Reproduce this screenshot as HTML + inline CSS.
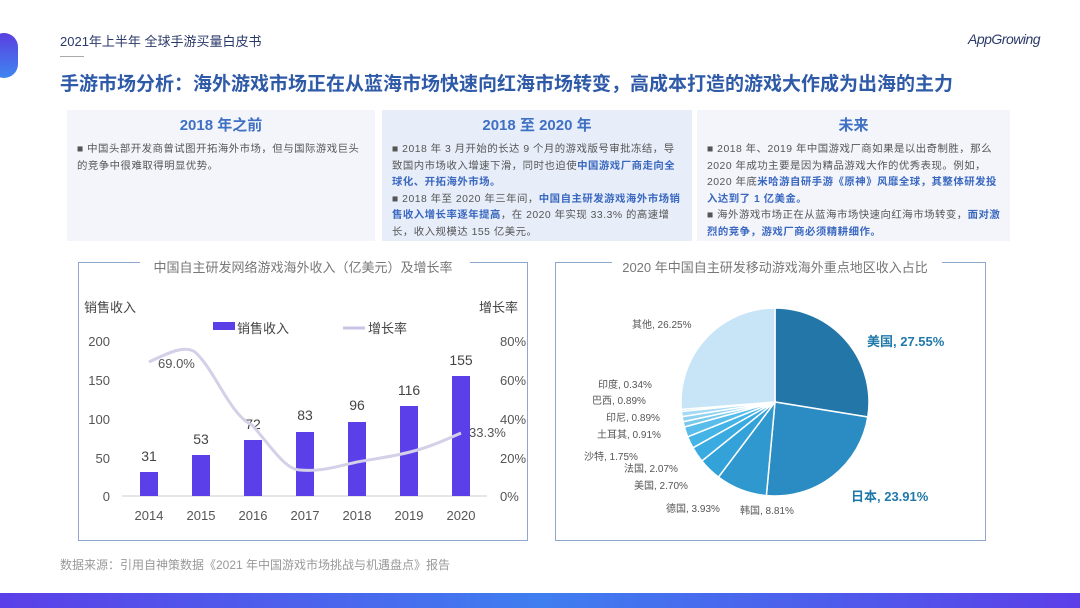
<!DOCTYPE html>
<html><head><meta charset="utf-8">
<style>
body{margin:0;width:1080px;height:608px;background:#fff;position:relative;overflow:hidden;font-family:"Liberation Sans","Noto Sans CJK SC",sans-serif;}
.abs{position:absolute}
.box{position:absolute;top:110px;height:131px;background:#f3f5fb;}
.box h3{margin:6px 0 0;height:20px;line-height:20px;text-align:center;font-size:15px;color:#3f70c4;font-weight:bold}
.box p{margin:6px 8px 0 10px;font-size:10.4px;letter-spacing:0.5px;line-height:16.5px;color:#555}
.box b{color:#3a68c0}
</style></head><body>
<div class="abs" style="left:-10px;top:33px;width:28px;height:45px;border-radius:14px;background:linear-gradient(180deg,#5a3fe0,#3f86f0)"></div>
<div class="abs" style="left:60px;top:31px;font-size:13px;color:#2b3a6a">2021年上半年 全球手游买量白皮书</div>
<div class="abs" style="left:60px;top:56px;width:24px;height:1px;background:#aaa"></div>
<div class="abs" style="left:968px;top:31px;font-size:14px;color:#2b3a6a;font-style:italic;letter-spacing:-0.5px">AppGrowing</div>
<div class="abs" style="left:60px;top:69px;font-size:19px;font-weight:bold;color:#2e5aa8">手游市场分析：海外游戏市场正在从蓝海市场快速向红海市场转变，高成本打造的游戏大作成为出海的主力</div>

<div class="box" style="left:67px;width:308px"><h3>2018 年之前</h3><p>■ 中国头部开发商曾试图开拓海外市场，但与国际游戏巨头的竞争中很难取得明显优势。</p></div>
<div class="box" style="left:382px;width:310px;background:#e8eef9"><h3>2018 至 2020 年</h3><p>■ 2018 年 3 月开始的长达 9 个月的游戏版号审批冻结，导致国内市场收入增速下滑，同时也迫使<b>中国游戏厂商走向全球化、开拓海外市场。</b><br>■ 2018 年至 2020 年三年间，<b>中国自主研发游戏海外市场销售收入增长率逐年提高</b>，在 2020 年实现 33.3% 的高速增长，收入规模达 155 亿美元。</p></div>
<div class="box" style="left:697px;width:313px"><h3>未来</h3><p>■ 2018 年、2019 年中国游戏厂商如果是以出奇制胜，那么 2020 年成功主要是因为精品游戏大作的优秀表现。例如，2020 年底<b>米哈游自研手游《原神》风靡全球，其整体研发投入达到了 1 亿美金。</b><br>■ 海外游戏市场正在从蓝海市场快速向红海市场转变，<b>面对激烈的竞争，游戏厂商必须精耕细作。</b></p></div>

<svg class="abs" style="left:0;top:0" width="1080" height="608" font-family="Liberation Sans, Noto Sans CJK SC, sans-serif">
<rect x="78.5" y="262.5" width="449" height="278" fill="none" stroke="#8fa6cf"/>
<rect x="140" y="255" width="330" height="15" fill="#fff"/>
<text x="303" y="272" font-size="13" fill="#777" text-anchor="middle">中国自主研发网络游戏海外收入（亿美元）及增长率</text>
<text x="84" y="312" font-size="13" fill="#444">销售收入</text>
<text x="518" y="312" font-size="13" fill="#444" text-anchor="end">增长率</text>
<rect x="213" y="322" width="22" height="8" fill="#5b3fe8"/><text x="237" y="333" font-size="13" fill="#444">销售收入</text>
<line x1="343" y1="328" x2="365" y2="328" stroke="#c8c4e4" stroke-width="3"/><text x="368" y="333" font-size="13" fill="#444">增长率</text>
<g font-size="13" fill="#555" text-anchor="end">
<text x="110" y="346">200</text><text x="110" y="385">150</text><text x="110" y="424">100</text><text x="110" y="463">50</text><text x="110" y="501">0</text></g>
<g font-size="13" fill="#555"><text x="500" y="346">80%</text><text x="500" y="385">60%</text><text x="500" y="424">40%</text><text x="500" y="463">20%</text><text x="500" y="501">0%</text></g>
<line x1="122" y1="496" x2="487" y2="496" stroke="#ccc"/>
<g fill="#5b3fe8">
<rect x="140" y="472" width="18" height="24"/><rect x="192" y="455" width="18" height="41"/><rect x="244" y="440" width="18" height="56"/><rect x="296" y="432" width="18" height="64"/><rect x="348" y="422" width="18" height="74"/><rect x="400" y="406" width="18" height="90"/><rect x="452" y="376" width="18" height="120"/></g>
<g font-size="14" fill="#444" text-anchor="middle">
<text x="149" y="461">31</text><text x="201" y="444">53</text><text x="253" y="429">72</text><text x="305" y="420">83</text><text x="357" y="410">96</text><text x="409" y="395">116</text><text x="461" y="365">155</text></g>
<path d="M149,362 C170,352 185,345 195,352 C215,370 230,415 252,425 C270,445 285,470 300,470 C320,472 340,466 357,462 C380,458 395,456 410,452 C430,447 445,440 461,433" fill="none" stroke="#d3d0e8" stroke-width="3"/>
<text x="158" y="368" font-size="13" fill="#555">69.0%</text>
<text x="469" y="437" font-size="13" fill="#555">33.3%</text>
<g font-size="13" fill="#555" text-anchor="middle">
<text x="149" y="520">2014</text><text x="201" y="520">2015</text><text x="253" y="520">2016</text><text x="305" y="520">2017</text><text x="357" y="520">2018</text><text x="409" y="520">2019</text><text x="461" y="520">2020</text></g>

<rect x="555.5" y="262.5" width="430" height="278" fill="none" stroke="#8fa6cf"/>
<rect x="612" y="255" width="330" height="15" fill="#fff"/>
<text x="775" y="272" font-size="13" fill="#777" text-anchor="middle">2020 年中国自主研发移动游戏海外重点地区收入占比</text>
<g id="pie"></g>
<g font-size="10" fill="#555">
<text x="632" y="328">其他, 26.25%</text>
<text x="598" y="388">印度, 0.34%</text>
<text x="592" y="404">巴西, 0.89%</text>
<text x="606" y="421">印尼, 0.89%</text>
<text x="597" y="438">土耳其, 0.91%</text>
<text x="584" y="460">沙特, 1.75%</text>
<text x="624" y="472">法国, 2.07%</text>
<text x="634" y="489">美国, 2.70%</text>
<text x="666" y="512">德国, 3.93%</text>
<text x="740" y="514">韩国, 8.81%</text>
</g>
<text x="867" y="346" font-size="13" font-weight="bold" fill="#1f78aa">美国, 27.55%</text>
<text x="851" y="501" font-size="13" font-weight="bold" fill="#1f78aa">日本, 23.91%</text>
</svg>
<div class="abs" style="left:60px;top:556px;font-size:12px;color:#999">数据来源：引用自神策数据《2021 年中国游戏市场挑战与机遇盘点》报告</div>
<div class="abs" style="left:0;top:593px;width:1080px;height:15px;background:linear-gradient(90deg,#5b3fe8,#3f7ef0,#5b3fe8)"></div>
<script>
var d=[[27.55,'#2377a8'],[23.91,'#2a8cc2'],[8.81,'#2e98cf'],[3.93,'#33a2d9'],[2.70,'#3aabe1'],[2.07,'#44b3e6'],[1.75,'#58bdea'],[0.91,'#78c8ee'],[0.89,'#8ed1f0'],[0.89,'#a4daf3'],[0.34,'#b6e1f5'],[26.25,'#c8e5f7']];
var cx=775,cy=402,r=94,a=-Math.PI/2,s='';
d.forEach(function(e){var b=a+e[0]/100*2*Math.PI;var x1=cx+r*Math.cos(a),y1=cy+r*Math.sin(a),x2=cx+r*Math.cos(b),y2=cy+r*Math.sin(b);
s+='<path d="M'+cx+','+cy+'L'+x1+','+y1+'A'+r+','+r+' 0 '+(b-a>Math.PI?1:0)+' 1 '+x2+','+y2+'Z" fill="'+e[1]+'" stroke="#fff" stroke-width="1.5"/>';a=b;});
document.getElementById('pie').innerHTML=s;
</script>
</body></html>
